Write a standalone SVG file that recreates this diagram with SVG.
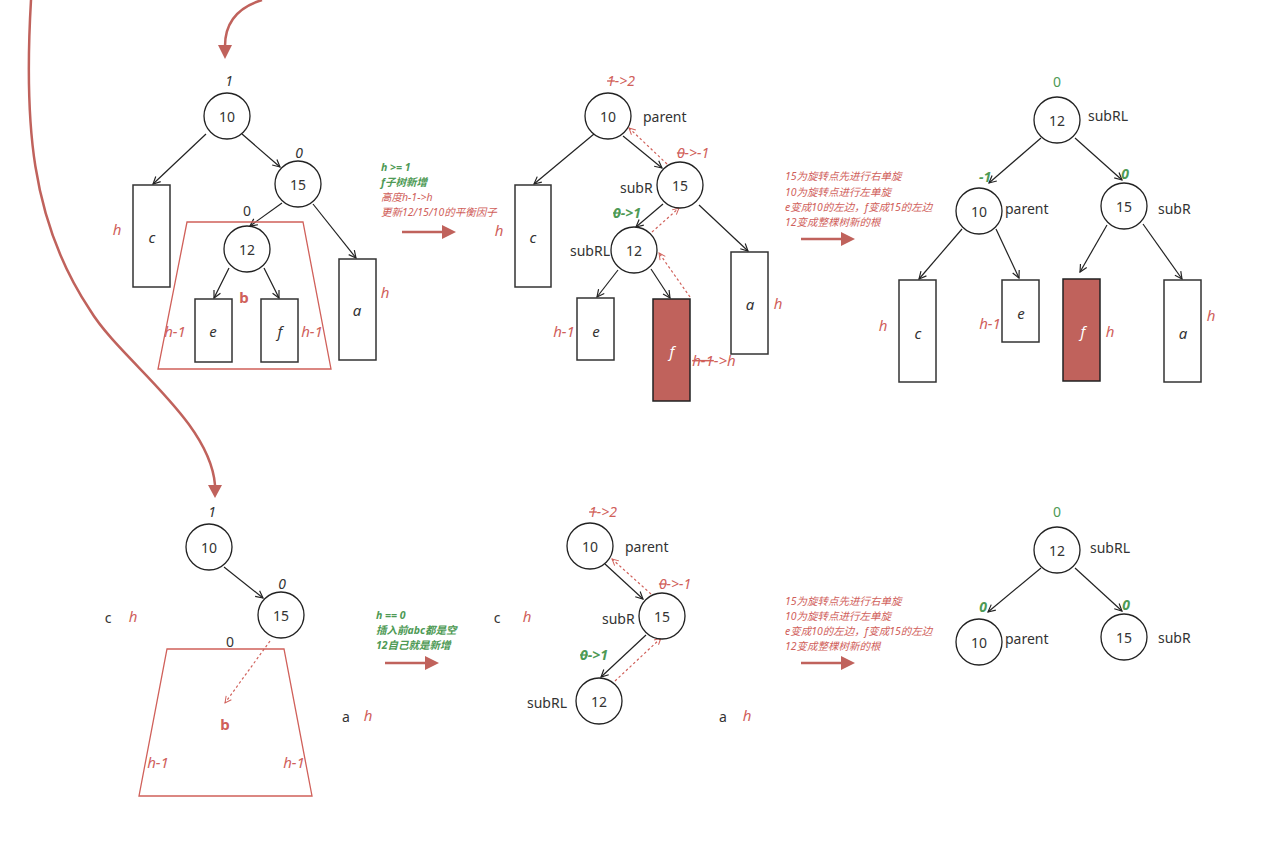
<svg xmlns="http://www.w3.org/2000/svg" width="1264" height="854" viewBox="0 0 1264 854">
<style>
text{font-family:"Noto Sans","Noto Sans CJK SC",sans-serif;}
.n circle{fill:#fff;stroke:#222;stroke-width:1.3;}
.num{font-size:14px;fill:#333;text-anchor:middle;dominant-baseline:central;}
.lbl{font-size:14px;fill:#333;dominant-baseline:central;}
.box{fill:#fff;stroke:#333;stroke-width:1.5;}
.boxf{fill:#c0625c;stroke:#222;stroke-width:1.5;}
.it{font-size:15px;font-style:italic;fill:#333;text-anchor:middle;dominant-baseline:central;}
.itw{font-size:15px;font-style:italic;fill:#fff;text-anchor:middle;dominant-baseline:central;}
.rh{font-size:15px;font-style:italic;fill:#d0605a;text-anchor:middle;dominant-baseline:central;}
.bf{font-size:14px;font-style:italic;fill:#333;text-anchor:middle;dominant-baseline:central;}
.rbf{font-size:14px;font-style:italic;fill:#d0605a;text-anchor:middle;dominant-baseline:central;}
.gbf{font-size:14px;font-style:italic;font-weight:bold;fill:#4e9a55;text-anchor:middle;dominant-baseline:central;}
.g0{font-size:14px;fill:#4e9a55;text-anchor:middle;dominant-baseline:central;}
.st{text-decoration:line-through;}
.gnote{font-size:10.5px;font-style:italic;font-weight:bold;fill:#4e9a55;}
.rnote{font-size:10.5px;font-style:italic;fill:#d0605a;}
.edge{stroke:#222;stroke-width:1.2;fill:none;marker-end:url(#oa);}
.dash{stroke:#d0605a;stroke-width:1.2;fill:none;stroke-dasharray:2.5 2.5;marker-end:url(#ra);}
.trap{fill:none;stroke:#d0605a;stroke-width:1.3;}
.bl{font-size:15px;font-weight:bold;fill:#d0605a;text-anchor:middle;dominant-baseline:central;}
.big{stroke:#c0625c;stroke-width:2.5;fill:none;}
.bigh{fill:#c0625c;}
</style>
<defs>
<marker id="oa" viewBox="0 0 10 10" refX="9" refY="5" markerWidth="9" markerHeight="9" orient="auto" markerUnits="userSpaceOnUse">
<path d="M1 1 L9 5 L1 9" fill="none" stroke="#222" stroke-width="1.3"/>
</marker>
<marker id="ra" viewBox="0 0 10 10" refX="9" refY="5" markerWidth="8" markerHeight="8" orient="auto" markerUnits="userSpaceOnUse">
<path d="M1 1 L9 5 L1 9" fill="none" stroke="#d0605a" stroke-width="1.2"/>
</marker>
</defs>

<!-- big red curves -->
<g id="bigcurves">
<path class="big" d="M262 0 C236 8 225 25 225 46"/>
<polygon class="bigh" points="218,45 232,45 225,59"/>
<path class="big" d="M31 0 C24 120 30 220 90 310 C120 360 210 420 215 485"/>
<polygon class="bigh" points="208,485 222,485 215,498"/>
</g>

<!-- connectors -->
<g id="connectors">
<!-- top-left -->
<line class="edge" x1="206" y1="134" x2="153" y2="184"/>
<line class="edge" x1="242" y1="134" x2="280" y2="167"/>
<line class="edge" x1="282" y1="203" x2="250" y2="226"/>
<line class="edge" x1="313" y1="204" x2="356" y2="258"/>
<line class="edge" x1="229" y1="268" x2="214" y2="298"/>
<line class="edge" x1="264" y1="268" x2="279" y2="298"/>
<!-- top-middle -->
<line class="edge" x1="594" y1="134" x2="534" y2="184"/>
<line class="edge" x1="623" y1="136" x2="662" y2="168"/>
<line class="edge" x1="663" y1="204" x2="636" y2="227"/>
<line class="edge" x1="699" y1="205" x2="748" y2="251"/>
<line class="edge" x1="618" y1="270" x2="597" y2="297"/>
<line class="edge" x1="651" y1="269" x2="670" y2="298"/>
<line class="dash" x1="667" y1="164" x2="629" y2="128"/>
<line class="dash" x1="652" y1="232" x2="679" y2="208"/>
<line class="dash" x1="690" y1="297" x2="659" y2="253"/>
<!-- top-right -->
<line class="edge" x1="1041" y1="138" x2="989" y2="183"/>
<line class="edge" x1="1075" y1="138" x2="1122" y2="180"/>
<line class="edge" x1="962" y1="229" x2="919" y2="279"/>
<line class="edge" x1="996" y1="229" x2="1019" y2="278"/>
<line class="edge" x1="1107" y1="225" x2="1080" y2="272"/>
<line class="edge" x1="1143" y1="224" x2="1182" y2="279"/>
<!-- bottom-left -->
<line class="edge" x1="224" y1="567" x2="263" y2="598"/>
<line class="dash" x1="270" y1="641" x2="225" y2="703"/>
<!-- bottom-middle -->
<line class="edge" x1="605" y1="564" x2="643" y2="599"/>
<line class="edge" x1="646" y1="635" x2="601" y2="677"/>
<line class="dash" x1="651" y1="594" x2="612" y2="559"/>
<line class="dash" x1="615" y1="681" x2="661" y2="638"/>
<!-- bottom-right -->
<line class="edge" x1="1041" y1="568" x2="988" y2="612"/>
<line class="edge" x1="1075" y1="568" x2="1122" y2="611"/>
</g>

<!-- ===== top-left tree ===== -->
<g id="tl-b">
<polygon class="trap" points="187,222 303,222 331,369 158,369"/>
<text class="bl" x="244" y="297">b</text>
<text class="rh" x="175" y="331">h-1</text>
<text class="rh" x="312" y="331">h-1</text>
</g>
<g id="tl-10" class="n"><circle cx="227" cy="116" r="23"/><text class="num" x="227" y="116">10</text><text class="bf" x="229" y="80">1</text></g>
<g id="tl-15" class="n"><circle cx="298" cy="184" r="23"/><text class="num" x="298" y="184">15</text><text class="bf" x="299" y="152">0</text></g>
<g id="tl-12" class="n"><circle cx="247" cy="249" r="23"/><text class="num" x="247" y="249">12</text><text class="num" x="247" y="210">0</text></g>
<g id="tl-c"><rect class="box" x="133" y="185" width="37" height="102"/><text class="it" x="152" y="237">c</text><text class="rh" x="117" y="229">h</text></g>
<g id="tl-a"><rect class="box" x="339" y="259" width="37" height="101"/><text class="it" x="357" y="310">a</text><text class="rh" x="385" y="292">h</text></g>
<g id="tl-e"><rect class="box" x="195" y="299" width="37" height="63"/><text class="it" x="213" y="331">e</text></g>
<g id="tl-f"><rect class="box" x="261" y="299" width="37" height="63"/><text class="it" x="280" y="331">f</text></g>

<!-- note 1 -->
<g id="note1">
<text class="gnote" x="381" y="171">h &gt;= 1</text>
<text class="gnote" x="381" y="186">f子树新增</text>
<text class="rnote" x="381" y="201">高度h-1-&gt;h</text>
<text class="rnote" x="381" y="216">更新12/15/10的平衡因子</text>
<line x1="402" y1="232" x2="443" y2="232" class="big"/>
<polygon class="bigh" points="442,225 456,232 442,239"/>
</g>

<!-- ===== top-middle tree ===== -->
<g id="tm-10" class="n"><circle cx="608" cy="116" r="23"/><text class="num" x="608" y="116">10</text><text class="lbl" x="643" y="116">parent</text>
<text class="rbf" x="621" y="80"><tspan class="st">1</tspan>-&gt;2</text></g>
<g id="tm-15" class="n"><circle cx="680" cy="185" r="23"/><text class="num" x="680" y="185">15</text><text class="lbl" x="620" y="187">subR</text>
<text class="rbf" x="693" y="152"><tspan class="st">0</tspan>-&gt;-1</text></g>
<g id="tm-12" class="n"><circle cx="634" cy="250" r="23"/><text class="num" x="634" y="250">12</text><text class="lbl" x="570" y="250">subRL</text>
<text class="gbf" x="627" y="212"><tspan class="st">0</tspan>-&gt;1</text></g>
<g id="tm-c"><rect class="box" x="515" y="185" width="36" height="102"/><text class="it" x="533" y="237">c</text><text class="rh" x="499" y="230">h</text></g>
<g id="tm-a"><rect class="box" x="731" y="252" width="37" height="102"/><text class="it" x="750" y="304">a</text><text class="rh" x="778" y="303">h</text></g>
<g id="tm-e"><rect class="box" x="577" y="298" width="37" height="62"/><text class="it" x="596" y="331">e</text><text class="rh" x="564" y="331">h-1</text></g>
<g id="tm-f"><rect class="boxf" x="653" y="299" width="37" height="102"/><text class="itw" x="672" y="351">f</text>
<text class="rh" x="714" y="360"><tspan class="st">h-1</tspan>-&gt;h</text></g>

<!-- note 2 -->
<g id="note2">
<text class="rnote" x="785" y="180">15为旋转点先进行右单旋</text>
<text class="rnote" x="785" y="196">10为旋转点进行左单旋</text>
<text class="rnote" x="785" y="211">e变成10的左边，f变成15的左边</text>
<text class="rnote" x="785" y="226">12变成整棵树新的根</text>
<line x1="801" y1="239" x2="842" y2="239" class="big"/>
<polygon class="bigh" points="841,232 855,239 841,246"/>
</g>

<!-- ===== top-right tree ===== -->
<g id="tr-12" class="n"><circle cx="1057" cy="120" r="23"/><text class="num" x="1057" y="120">12</text><text class="lbl" x="1088" y="115">subRL</text><text class="g0" x="1057" y="81">0</text></g>
<g id="tr-10" class="n"><circle cx="979" cy="211" r="23"/><text class="num" x="979" y="211">10</text><text class="lbl" x="1005" y="208">parent</text><text class="gbf" x="985" y="176">-1</text></g>
<g id="tr-15" class="n"><circle cx="1124" cy="206" r="23"/><text class="num" x="1124" y="206">15</text><text class="lbl" x="1158" y="208">subR</text><text class="gbf" x="1125" y="173">0</text></g>
<g id="tr-c"><rect class="box" x="899" y="280" width="37" height="102"/><text class="it" x="918" y="333">c</text><text class="rh" x="883" y="325">h</text></g>
<g id="tr-e"><rect class="box" x="1002" y="280" width="37" height="62"/><text class="it" x="1021" y="313">e</text><text class="rh" x="990" y="323">h-1</text></g>
<g id="tr-f"><rect class="boxf" x="1063" y="279" width="37" height="102"/><text class="itw" x="1083" y="331">f</text><text class="rh" x="1110" y="331">h</text></g>
<g id="tr-a"><rect class="box" x="1164" y="280" width="37" height="102"/><text class="it" x="1183" y="333">a</text><text class="rh" x="1211" y="315">h</text></g>

<!-- ===== bottom-left tree ===== -->
<g id="bl-b">
<polygon class="trap" points="167,649 284,649 312,796 139,796"/>
<text class="num" x="230" y="641">0</text>
<text class="bl" x="225" y="724">b</text>
<text class="rh" x="158" y="762">h-1</text>
<text class="rh" x="294" y="762">h-1</text>
</g>
<g id="bl-10" class="n"><circle cx="209" cy="547" r="23"/><text class="num" x="209" y="547">10</text><text class="bf" x="212" y="511">1</text></g>
<g id="bl-15" class="n"><circle cx="281" cy="615" r="23"/><text class="num" x="281" y="615">15</text><text class="bf" x="282" y="583">0</text></g>
<g id="bl-c"><text class="num" x="108" y="617">c</text><text class="rh" x="133" y="616">h</text></g>
<g id="bl-a"><text class="num" x="346" y="716">a</text><text class="rh" x="368" y="715">h</text></g>

<!-- note 3 -->
<g id="note3">
<text class="gnote" x="376" y="619">h == 0</text>
<text class="gnote" x="376" y="634">插入前abc都是空</text>
<text class="gnote" x="376" y="649">12自己就是新增</text>
<line x1="385" y1="663" x2="426" y2="663" class="big"/>
<polygon class="bigh" points="425,656 439,663 425,670"/>
</g>

<!-- ===== bottom-middle tree ===== -->
<g id="bm-c"><text class="num" x="497" y="617">c</text><text class="rh" x="527" y="616">h</text></g>
<g id="bm-a"><text class="num" x="723" y="716">a</text><text class="rh" x="747" y="715">h</text></g>
<g id="bm-10" class="n"><circle cx="590" cy="546" r="23"/><text class="num" x="590" y="546">10</text><text class="lbl" x="625" y="546">parent</text>
<text class="rbf" x="603" y="511"><tspan class="st">1</tspan>-&gt;2</text></g>
<g id="bm-15" class="n"><circle cx="662" cy="616" r="23"/><text class="num" x="662" y="616">15</text><text class="lbl" x="602" y="618">subR</text>
<text class="rbf" x="675" y="583"><tspan class="st">0</tspan>-&gt;-1</text></g>
<g id="bm-12" class="n"><circle cx="599" cy="701" r="23"/><text class="num" x="599" y="701">12</text><text class="lbl" x="527" y="702">subRL</text>
<text class="gbf" x="594" y="654"><tspan class="st">0</tspan>-&gt;1</text></g>

<!-- note 4 -->
<g id="note4">
<text class="rnote" x="785" y="605">15为旋转点先进行右单旋</text>
<text class="rnote" x="785" y="620">10为旋转点进行左单旋</text>
<text class="rnote" x="785" y="635">e变成10的左边，f变成15的左边</text>
<text class="rnote" x="785" y="650">12变成整棵树新的根</text>
<line x1="801" y1="663" x2="842" y2="663" class="big"/>
<polygon class="bigh" points="841,656 855,663 841,670"/>
</g>

<!-- ===== bottom-right tree ===== -->
<g id="br-12" class="n"><circle cx="1057" cy="550" r="23"/><text class="num" x="1057" y="550">12</text><text class="lbl" x="1090" y="547">subRL</text><text class="g0" x="1057" y="511">0</text></g>
<g id="br-10" class="n"><circle cx="979" cy="642" r="23"/><text class="num" x="979" y="642">10</text><text class="lbl" x="1005" y="638">parent</text><text class="gbf" x="983" y="606">0</text></g>
<g id="br-15" class="n"><circle cx="1124" cy="637" r="23"/><text class="num" x="1124" y="637">15</text><text class="lbl" x="1158" y="637">subR</text><text class="gbf" x="1126" y="604">0</text></g>
</svg>
